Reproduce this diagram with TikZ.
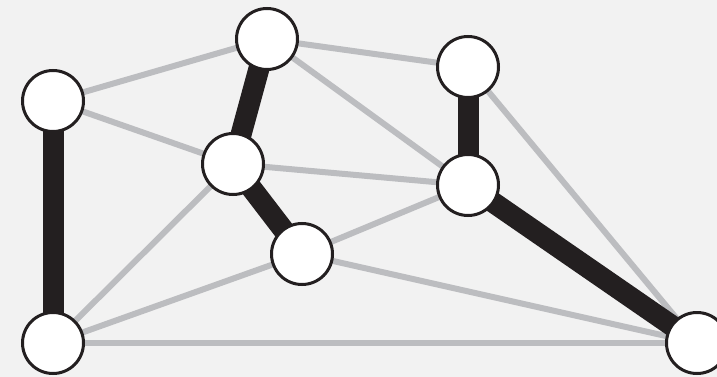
\documentclass[tikz,border=0pt]{standalone}
\usetikzlibrary{backgrounds}
\definecolor{bg}{HTML}{F2F2F2}
\definecolor{edgegray}{HTML}{BCBDC0}
\definecolor{ink}{HTML}{231F20}
\begin{document}
\begin{tikzpicture}[x=1pt, y=-1pt,
  vertex/.style={circle, draw=ink, line width=3pt, fill=white, minimum size=61pt, inner sep=0pt},
  edge/.style={edgegray, line width=6pt},
  matched/.style={ink, line width=21pt}]
  \useasboundingbox (0,0) rectangle (717,377);
  \clip (0,0) rectangle (717,377);

  % Vertices
  \node[vertex] (a) at (53,101) {};
  \node[vertex] (b) at (267,39) {};
  \node[vertex] (c) at (233,164) {};
  \node[vertex] (d) at (302,254) {};
  \node[vertex] (e) at (468,67) {};
  \node[vertex] (f) at (468,185) {};
  \node[vertex] (g) at (53,343) {};
  \node[vertex] (h) at (697,343) {};

  \begin{scope}[on background layer]
    % Background
    \fill[bg] (0,0) rectangle (717,377);

    % Gray edges
    \draw[edge] (a.center) -- (b.center);
    \draw[edge] (a.center) -- (c.center);
    \draw[edge] (b.center) -- (e.center);
    \draw[edge] (b.center) -- (f.center);
    \draw[edge] (c.center) -- (f.center);
    \draw[edge] (c.center) -- (g.center);
    \draw[edge] (d.center) -- (f.center);
    \draw[edge] (d.center) -- (g.center);
    \draw[edge] (d.center) -- (h.center);
    \draw[edge] (e.center) -- (h.center);
    \draw[edge] (g.center) -- (h.center);

    % Matching
    \draw[matched] (a.center) -- (g.center);
    \draw[matched] (b.center) -- (c.center);
    \draw[matched] (c.center) -- (d.center);
    \draw[matched] (e.center) -- (f.center);
    \draw[matched] (f.center) -- (h.center);
  \end{scope}
\end{tikzpicture}
\end{document}
